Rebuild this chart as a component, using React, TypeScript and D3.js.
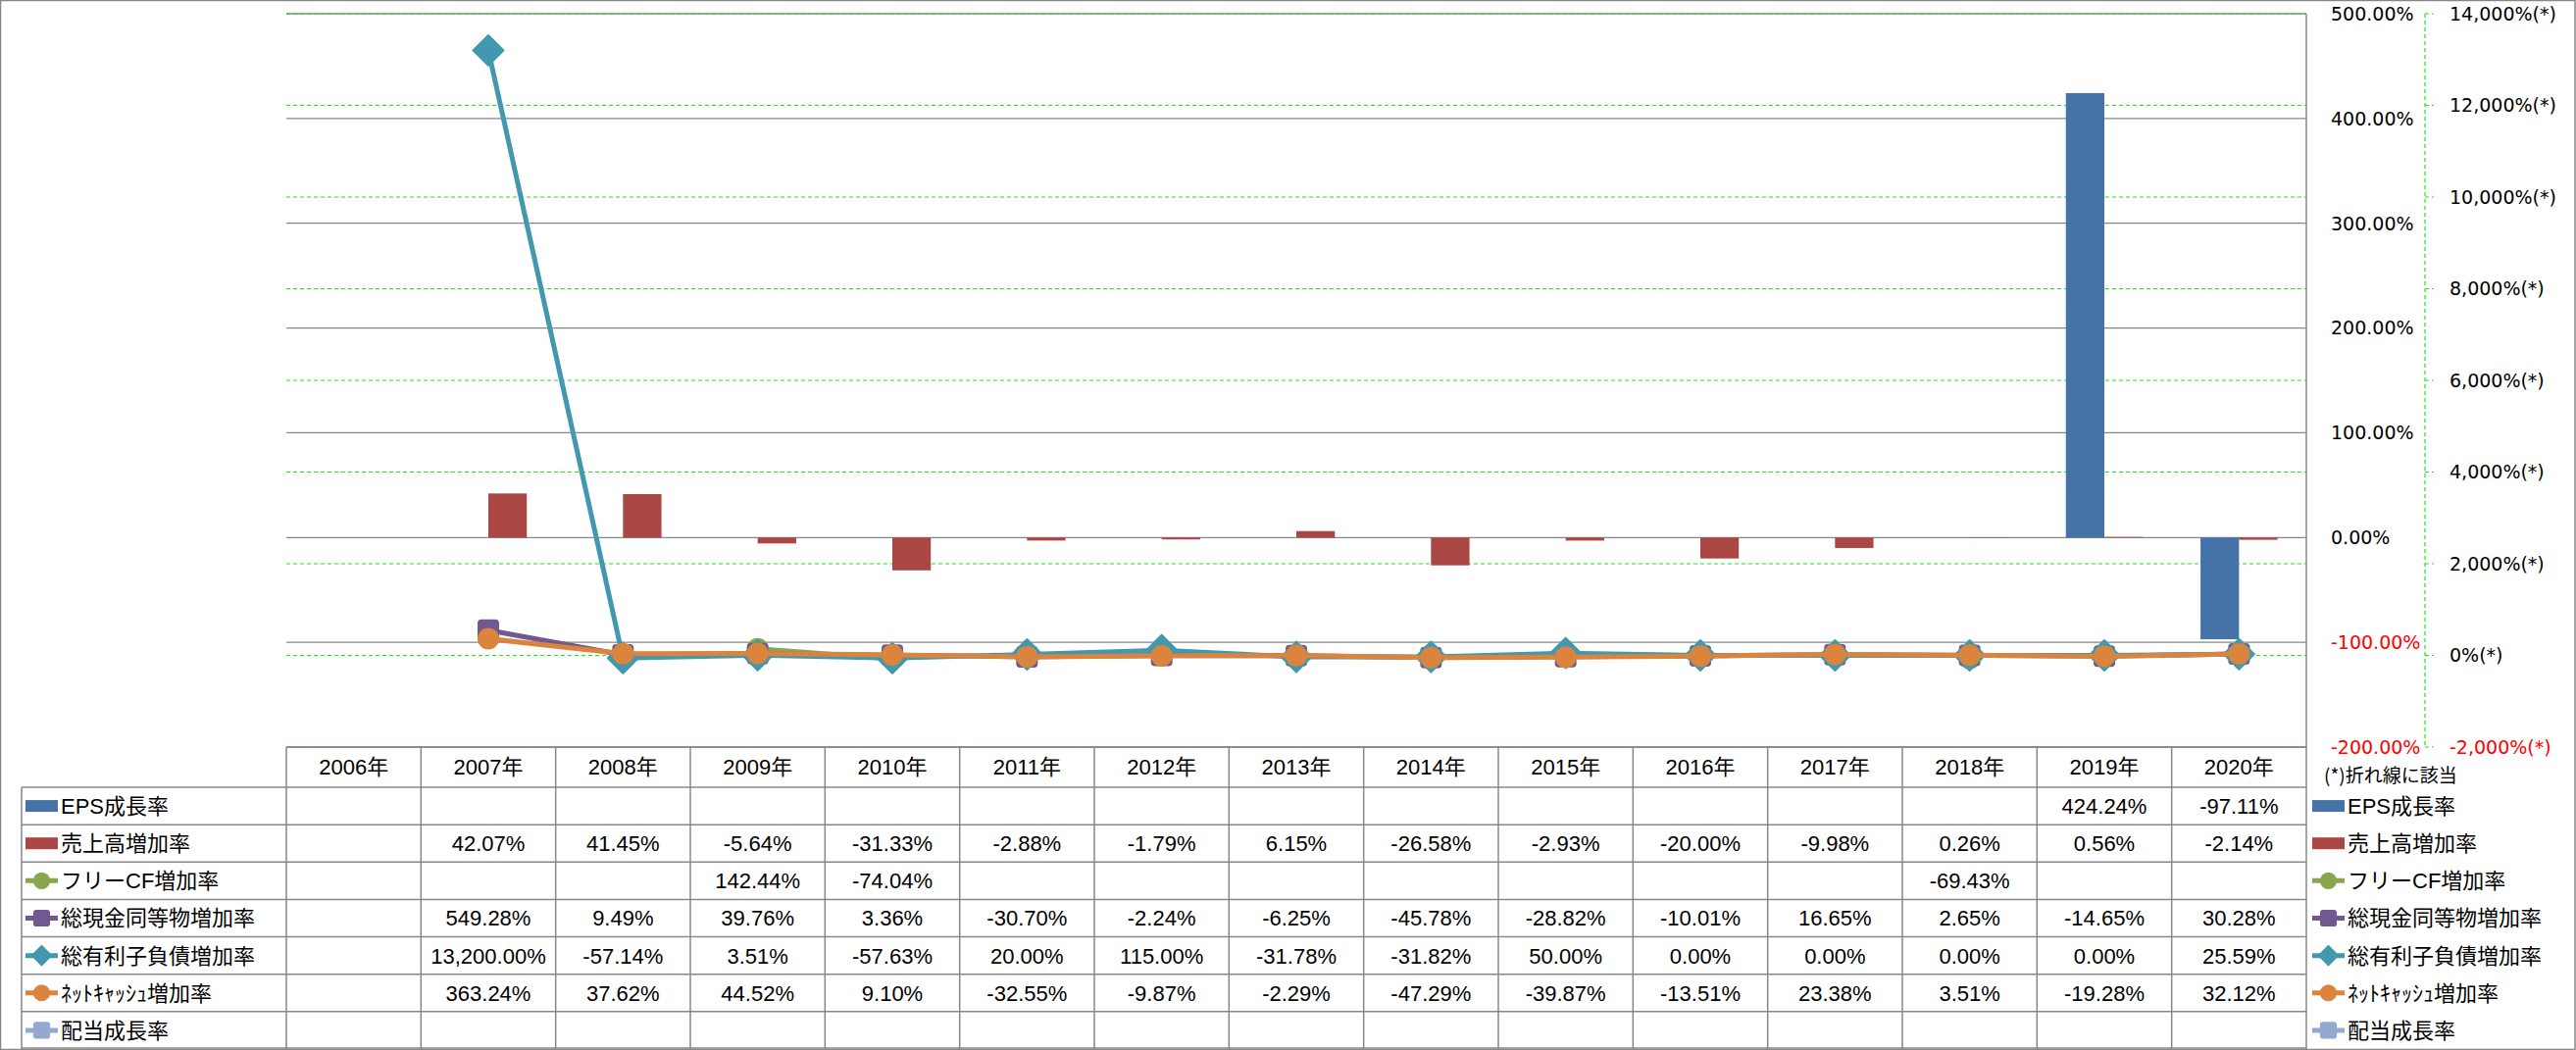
import React from "react";
import * as d3 from "d3";

const years = ["2006年","2007年","2008年","2009年","2010年","2011年","2012年","2013年","2014年","2015年","2016年","2017年","2018年","2019年","2020年"];

const epsGrowth: (number | null)[] = [null,null,null,null,null,null,null,null,null,null,null,null,null,424.24,-97.11];
const salesGrowth: (number | null)[] = [null,42.07,41.45,-5.64,-31.33,-2.88,-1.79,6.15,-26.58,-2.93,-20.0,-9.98,0.26,0.56,-2.14];
const freeCfGrowth: (number | null)[] = [null,null,null,142.44,-74.04,null,null,null,null,null,null,null,-69.43,null,null];
const cashGrowth: (number | null)[] = [null,549.28,9.49,39.76,3.36,-30.70,-2.24,-6.25,-45.78,-28.82,-10.01,16.65,2.65,-14.65,30.28];
const debtGrowth: (number | null)[] = [null,13200.0,-57.14,3.51,-57.63,20.0,115.0,-31.78,-31.82,50.0,0.0,0.0,0.0,0.0,25.59];
const netCashGrowth: (number | null)[] = [null,363.24,37.62,44.52,9.10,-32.55,-9.87,-2.29,-47.29,-39.87,-13.51,23.38,3.51,-19.28,32.12];
const dividendGrowth: (number | null)[] = [null,null,null,null,null,null,null,null,null,null,null,null,null,null,null];

const leftTicks = [-200,-100,0,100,200,300,400,500];
const rightTicks = [-2000,0,2000,4000,6000,8000,10000,12000,14000];

type Series = { name: string; values: (number | null)[]; color: string; kind: "bar" | "line"; marker?: "circle" | "square" | "diamond" };

const seriesList: Series[] = [
  { name: "EPS成長率", values: epsGrowth, color: "#4572A7", kind: "bar" },
  { name: "売上高増加率", values: salesGrowth, color: "#AA4643", kind: "bar" },
  { name: "フリーCF増加率", values: freeCfGrowth, color: "#89A54E", kind: "line", marker: "circle" },
  { name: "総現金同等物増加率", values: cashGrowth, color: "#71588F", kind: "line", marker: "square" },
  { name: "総有利子負債増加率", values: debtGrowth, color: "#4198AF", kind: "line", marker: "diamond" },
  { name: "ﾈｯﾄｷｬｯｼｭ増加率", values: netCashGrowth, color: "#DB843D", kind: "line", marker: "circle" },
  { name: "配当成長率", values: dividendGrowth, color: "#93A9CF", kind: "line", marker: "square" },
];

const W = 2627, H = 1071;
const PL = 292, PR = 2352, PT = 14, PB = 762;
const HEADER_H = 41;
const TABLE_BOTTOM = 1070;
const LABEL_LEFT = 22;

const loc = d3.formatLocale({ decimal: ".", thousands: ",", grouping: [3], currency: ["", ""], minus: "-" });
const fmtCell = loc.format(",.2f");
const fmtLeft = loc.format(".2f");
const fmtRight = loc.format(",");

const TXT = "'Liberation Sans', Arial, 'Noto Sans CJK JP', sans-serif";
const AX = "'DejaVu Sans', Verdana, 'Noto Sans CJK JP', sans-serif";
const GRID = "#878787";
const GREEN = "#14ee14";

function Marker({ type, x, y, color, s = 1 }: { type?: string; x: number; y: number; color: string; s?: number }) {
  if (type === "circle") return <circle cx={x} cy={y} r={11 * s} fill={color} />;
  if (type === "square") {
    const a = 11 * s;
    return <rect x={x - a} y={y - a} width={2 * a} height={2 * a} rx={4 * s} fill={color} />;
  }
  const h = 15.5 * s;
  return <path d={`M${x},${y - h}L${x + h},${y}L${x},${y + h}L${x - h},${y}Z`} fill={color} stroke={color} strokeWidth={2} strokeLinejoin="round" />;
}

export default function App() {
  const x = d3.scaleBand<string>().domain(years).range([PL, PR]).paddingInner(0).paddingOuter(0);
  const bw = x.bandwidth();
  const innerW = (bw * 2) / 3.5;
  const xb = d3.scaleBand<string>().domain(["EPS成長率", "売上高増加率"]).range([(bw - innerW) / 2, (bw + innerW) / 2]);
  const yL = d3.scaleLinear().domain([-200, 500]).range([PB, PT]);
  const yR = d3.scaleLinear().domain([-2000, 14000]).range([PB, PT]);
  const cx = (i: number) => (x(years[i]) as number) + bw / 2;

  const rowH = (TABLE_BOTTOM - PB - HEADER_H) / seriesList.length;
  const rowTop = (i: number) => PB + HEADER_H + i * rowH;

  const line = d3
    .line<number | null>()
    .defined((d) => d != null)
    .x((_, i) => cx(i))
    .y((d) => yR(d as number));

  const legendKey = (s: Series, x0: number, x1: number, yc: number) =>
    s.kind === "bar" ? (
      <rect x={x0} y={yc - 6} width={x1 - x0} height={12} fill={s.color} />
    ) : (
      <g>
        <line x1={x0} x2={x1} y1={yc} y2={yc} stroke={s.color} strokeWidth={5} />
        <Marker type={s.marker} x={(x0 + x1) / 2} y={yc} color={s.color} s={s.marker === "diamond" ? 0.62 : 0.78} />
      </g>
    );

  return (
    <svg width={W} height={H} style={{ position: "absolute", left: 0, top: 0, background: "#fff" }}>
      <rect x={0.5} y={0.5} width={W - 1.5} height={TABLE_BOTTOM} fill="#fff" stroke={GRID} strokeWidth={1.5} />

      {/* primary gridlines */}
      {leftTicks.map((t) => (
        <line key={"gl" + t} x1={PL} x2={PR} y1={yL(t)} y2={yL(t)} stroke={GRID} strokeWidth={1.3} />
      ))}
      {/* secondary gridlines */}
      {rightTicks.map((t) => (
        <line key={"gr" + t} x1={PL} x2={PR} y1={yR(t)} y2={yR(t)} stroke={GREEN} strokeWidth={1.2} strokeDasharray="4,3" />
      ))}
      <line x1={PR} x2={PR} y1={PT} y2={TABLE_BOTTOM} stroke={GRID} strokeWidth={1.5} />

      {/* bars */}
      {seriesList
        .filter((s) => s.kind === "bar")
        .map((s) =>
          s.values.map((v, i) =>
            v == null ? null : (
              <rect
                key={s.name + i}
                x={(x(years[i]) as number) + (xb(s.name) as number)}
                y={Math.min(yL(v), yL(0))}
                width={xb.bandwidth()}
                height={Math.abs(yL(v) - yL(0))}
                fill={s.color}
              />
            )
          )
        )}

      {/* lines */}
      {seriesList
        .filter((s) => s.kind === "line")
        .map((s) => (
          <g key={s.name}>
            <path d={line(s.values) || ""} fill="none" stroke={s.color} strokeWidth={5} strokeLinejoin="round" />
            {s.values.map((v, i) => (v == null ? null : <Marker key={i} type={s.marker} x={cx(i)} y={yR(v)} color={s.color} />))}
          </g>
        ))}

      {/* left (primary) axis labels */}
      {leftTicks.map((t) => (
        <text key={"tl" + t} x={2377} y={yL(t)} dy="0.36em" fontFamily={AX} fontSize={19} fill={t < 0 ? "#ff0000" : "#000"}>
          {fmtLeft(t) + "%"}
        </text>
      ))}
      {/* secondary axis */}
      <line x1={2473} x2={2473} y1={PT} y2={PB} stroke={GREEN} strokeWidth={1.2} strokeDasharray="4,3" />
      {rightTicks.map((t) => (
        <g key={"tr" + t}>
          <line x1={2473} x2={2482} y1={yR(t)} y2={yR(t)} stroke={GREEN} strokeWidth={1.2} strokeDasharray="4,3" />
          <text x={2498} y={yR(t)} dy="0.36em" fontFamily={AX} fontSize={19} fill={t < 0 ? "#ff0000" : "#000"}>
            {fmtRight(t) + "%(*)"}
          </text>
        </g>
      ))}
      <text x={2370} y={791} dy="0.36em" fontFamily="'Noto Sans CJK JP', sans-serif" fontSize={19} fill="#000">
        (*)折れ線に該当
      </text>

      {/* data table */}
      <line x1={PL} x2={PR} y1={PB} y2={PB} stroke={GRID} strokeWidth={1.5} />
      {seriesList.map((s, i) => (
        <line key={"hr" + i} x1={LABEL_LEFT} x2={PR} y1={rowTop(i)} y2={rowTop(i)} stroke={GRID} strokeWidth={1.5} />
      ))}
      <line x1={LABEL_LEFT} x2={PR} y1={TABLE_BOTTOM - 1} y2={TABLE_BOTTOM - 1} stroke={GRID} strokeWidth={1.5} />
      <line x1={LABEL_LEFT} x2={LABEL_LEFT} y1={rowTop(0)} y2={TABLE_BOTTOM} stroke={GRID} strokeWidth={1.5} />
      {years.map((yr) => (
        <line key={"vc" + yr} x1={x(yr) as number} x2={x(yr) as number} y1={PB} y2={TABLE_BOTTOM} stroke={GRID} strokeWidth={1.5} />
      ))}
      {years.map((yr) => (
        <text key={"yh" + yr} x={(x(yr) as number) + bw / 2} y={PB + HEADER_H / 2} dy="0.36em" textAnchor="middle" fontFamily={TXT} fontSize={22} fill="#000">
          {yr}
        </text>
      ))}
      {seriesList.map((s, r) => {
        const yc = rowTop(r) + rowH / 2;
        return (
          <g key={"row" + r}>
            {legendKey(s, 26, 59, yc)}
            <text x={62} y={yc} dy="0.36em" fontFamily={TXT} fontSize={22} fill="#000">
              {s.name}
            </text>
            {s.values.map((v, i) =>
              v == null ? null : (
                <text key={i} x={cx(i)} y={yc} dy="0.36em" textAnchor="middle" fontFamily={TXT} fontSize={22} fill="#000">
                  {fmtCell(v) + "%"}
                </text>
              )
            )}
            {legendKey(s, 2358, 2391, yc)}
            <text x={2394} y={yc} dy="0.36em" fontFamily={TXT} fontSize={22} fill="#000">
              {s.name}
            </text>
          </g>
        );
      })}
    </svg>
  );
}
